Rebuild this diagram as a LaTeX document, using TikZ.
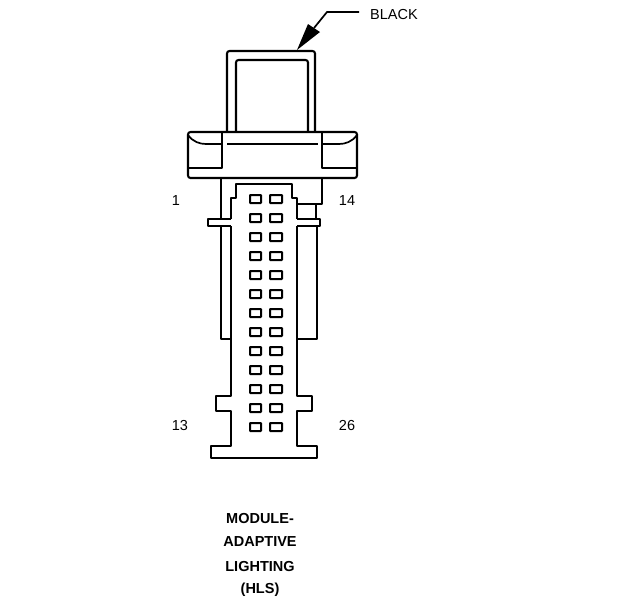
\documentclass[tikz,border=0pt]{standalone}
\usepackage{fontspec}
\setmainfont{Liberation Sans}

\tikzset{
	outline/.style={line width=2.1pt, line join=round},
	thin outline/.style={line width=1.7pt},
	pin/.style={line width=2pt, rounded corners=0.6pt},
	pin label/.style={font=\fontsize{14.5}{16}\selectfont, inner sep=0pt},
	title label/.style={font=\fontsize{14.5}{16}\selectfont\bfseries, inner sep=0pt}
}

\begin{document}
\begin{tikzpicture}[x=1pt, y=-1pt]
		\useasboundingbox (0,0) rectangle (624,600);

		%definition of the leader
		\coordinate (arrow tip) at (297,50);
		\coordinate (arrow left) at (308,24);
		\coordinate (arrow right) at (320,32);
		\coordinate (leader beginning) at (314,28);
		\coordinate (leader bend) at (327,12);

		\node [pin label, anchor=west] (black) at (370,15) {BLACK};

		\fill (arrow tip) -- (arrow left) -- (arrow right) -- cycle;
		\draw [thin outline] (leader beginning) -- (leader bend) -- (359,12);

		%handle
		\draw [outline, rounded corners=2.5pt] (227,132) -- (227,51) -- (315,51) -- (315,132);
		\draw [outline, rounded corners=2.5pt] (236,132) -- (236,60) -- (308,60) -- (308,132);

		%flange
		\draw [outline, rounded corners=2.5pt] (188,132) rectangle (357,178);
		\draw [outline] (222,132) -- (222,168) -- (188,168);
		\draw [outline] (322,132) -- (322,168) -- (357,168);
		\draw [thin outline] (227,144) -- (318,144);
		\draw [thin outline] (188,135) .. controls (193,142) and (200,144) .. (206,144) -- (222,144);
		\draw [thin outline] (357,135) .. controls (352,142) and (345,144) .. (339,144) -- (322,144);

		%body
		\draw [outline] (231,219) -- (231,198) -- (236,198) -- (236,184) -- (292,184) -- (292,198) -- (297,198) -- (297,219);
		\draw [outline] (231,226) -- (231,396) -- (216,396) -- (216,411) -- (231,411) -- (231,446)
			-- (211,446) -- (211,458) -- (317,458) -- (317,446) -- (297,446) -- (297,411)
			-- (312,411) -- (312,396) -- (297,396) -- (297,226);

		%latch arms
		\draw [outline] (221,178) -- (221,219);
		\draw [outline] (231,219) -- (208,219) -- (208,226) -- (231,226);
		\draw [outline] (221,226) -- (221,339) -- (231,339);
		\draw [outline] (322,178) -- (322,204) -- (297,204);
		\draw [outline] (316,204) -- (316,219);
		\draw [outline] (297,219) -- (320,219) -- (320,226) -- (297,226);
		\draw [outline] (317,226) -- (317,339) -- (297,339);

		%pins
		\foreach \row in {0,...,12}{
			\draw [pin] (250,195+19*\row) rectangle ++(11,8);
			\draw [pin] (270,195+19*\row) rectangle ++(12,8);
		}

		\node [pin label] (pin one) at (176,201) {1};
		\node [pin label] (pin fourteen) at (347,201) {14};
		\node [pin label] (pin thirteen) at (180,426) {13};
		\node [pin label] (pin twentysix) at (347,426) {26};

		\node [title label] (title one) at (260,519) {MODULE-};
		\node [title label] (title two) at (260,542) {ADAPTIVE};
		\node [title label] (title three) at (260,566) {LIGHTING};
		\node [title label] (title four) at (260,590) {(HLS)};

	\end{tikzpicture}
\end{document}
